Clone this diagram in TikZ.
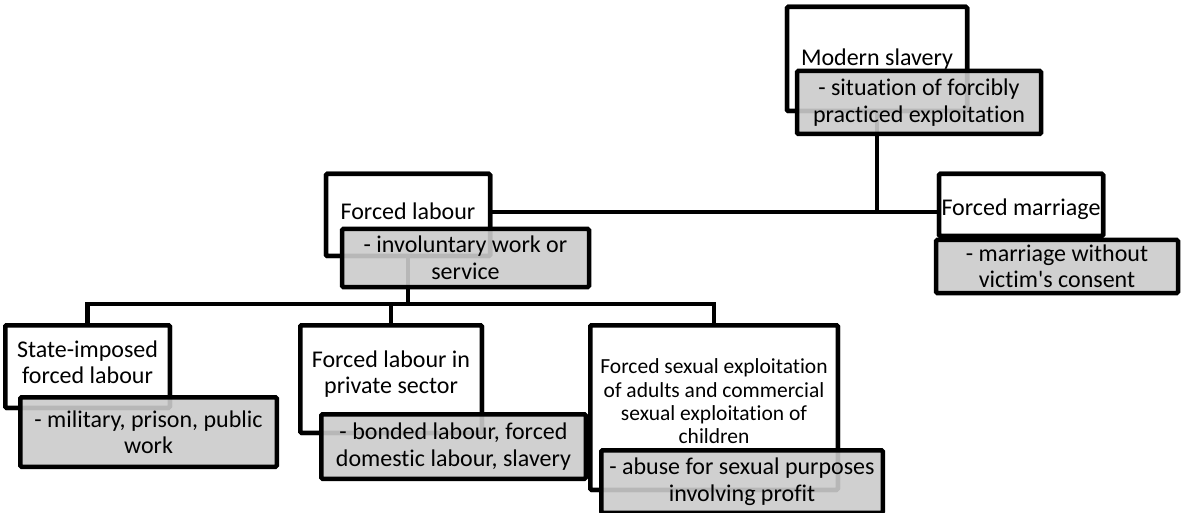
\documentclass[tikz,border=0pt]{standalone}
\usepackage{fontspec}
\setmainfont{Carlito}[Ligatures={NoCommon}]
\definecolor{boxgray}{RGB}{203,203,203}
\tikzset{
  wbox/.style={draw=black, line width=4.5pt, fill=white, rounded corners=1.2pt, inner sep=0pt},
  wtxt/.style={align=center, inner sep=0pt, font=\fontsize{24}{26.5}\selectfont},
  gbox/.style={draw=black, line width=4.5pt, fill=boxgray, fill opacity=0.9, text opacity=1, rounded corners=1.2pt,
    align=center, inner sep=0pt, font=\fontsize{24}{26.5}\selectfont},
  conn/.style={draw=black, line width=4.5pt, line join=miter}
}
\begin{document}
\begin{tikzpicture}[x=1pt,y=-1pt]
\useasboundingbox (0,0) rectangle (1181,513);
% connector junctions
\coordinate (j1) at (877,212);
\coordinate (j2) at (408,304);
% white boxes
\path
  node[wbox, minimum width=180pt, minimum height=104pt] (msw) at (877,59) {}
  node[wbox, minimum width=164pt, minimum height=62pt] (fmw) at (1021,205) {}
  node[wbox, minimum width=164pt, minimum height=82pt] (flw) at (408,215) {}
  node[wbox, minimum width=164.5pt, minimum height=82.5pt] (stw) at (87.5,366.5) {}
  node[wbox, minimum width=181.5pt, minimum height=107.5pt] (prw) at (391,379) {}
  node[wbox, minimum width=247.5pt, minimum height=164.5pt] (sxw) at (714,407.5) {};
% connectors
\draw[conn] (msw.south) -- (msw.south |- j1);
\draw[conn] (flw.east |- j1) -- (fmw.west |- j1);
\draw[conn] (flw.south) -- (j2);
\draw[conn] (stw.north) -- (stw.north |- j2) -- (sxw.north |- j2) -- (sxw.north);
\draw[conn] (prw.north) -- (prw.north |- j2);
% redraw white boxes over connectors
\path
  node[wbox, minimum width=180pt, minimum height=104pt] at (msw) {}
  node[wbox, minimum width=164pt, minimum height=62pt] at (fmw) {}
  node[wbox, minimum width=164pt, minimum height=82pt] at (flw) {}
  node[wbox, minimum width=164.5pt, minimum height=82.5pt] at (stw) {}
  node[wbox, minimum width=181.5pt, minimum height=107.5pt] at (prw) {}
  node[wbox, minimum width=247.5pt, minimum height=164.5pt] at (sxw) {};
% white box titles
\node[wtxt] (mst) at (877,59) {Modern slavery};
\node[wtxt] (fmt) at (1021,209) {Forced marriage};
\node[wtxt] (flt) at (408,211) {Forced labour};
\node[wtxt] (stt) at (87.5,362.5) {State-imposed\\forced labour};
\node[wtxt] (prt) at (391,374) {Forced labour in\\private sector};
\node[wtxt, font=\fontsize{21.5}{23.3}\selectfont] (sxt) at (714,401.5)
   {Forced sexual exploitation\\of adults and commercial\\sexual exploitation of\\children};
% gray description boxes
\node[gbox, minimum width=244pt, minimum height=63pt] (msg) at (919,102.5) {- situation of forcibly\\practiced exploitation};
\node[gbox, minimum width=242pt, minimum height=53pt] (fmg) at (1057,266.5) {- marriage without\\victim\textquotesingle s consent};
\node[gbox, minimum width=247pt, minimum height=58pt] (flg) at (465.5,258) {- involuntary work or\\service};
\node[gbox, minimum width=256.5pt, minimum height=69.5pt] (stg) at (148.5,432) {- military, prison, public\\work};
\node[gbox, minimum width=264.5pt, minimum height=64.5pt] (prg) at (453.5,446.5) {- bonded labour, forced\\domestic labour, slavery};
\node[gbox, minimum width=281.5pt, minimum height=62.5pt] (sxg) at (742,481.5) {- abuse for sexual purposes\\involving profit};
\end{tikzpicture}
\end{document}
